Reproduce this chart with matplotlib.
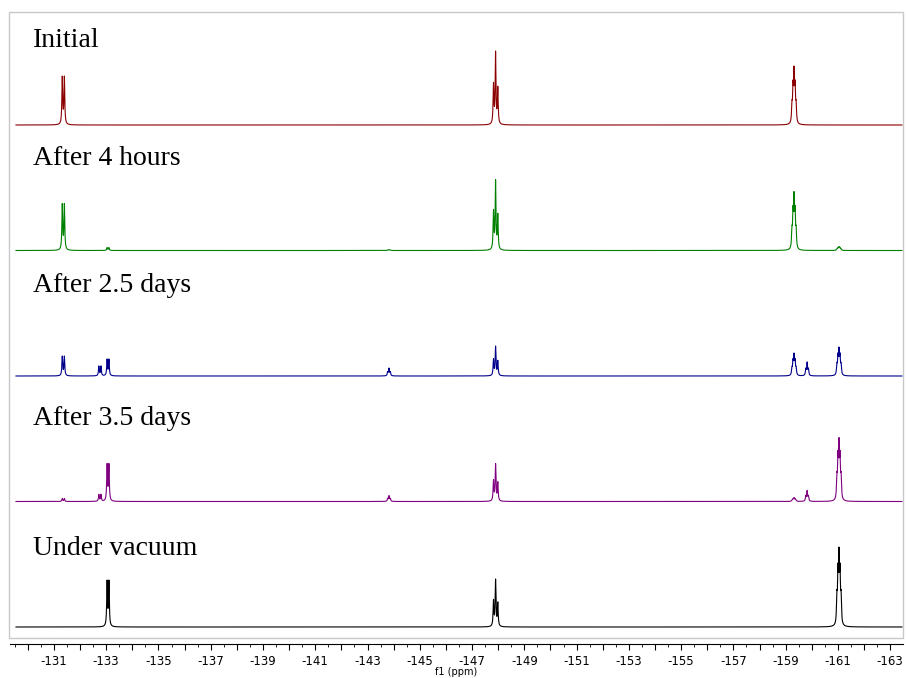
import numpy as np
import matplotlib.pyplot as plt
from matplotlib.ticker import MultipleLocator, FuncFormatter
from matplotlib.patches import Rectangle

# Espectros 19F apilados: posiciones de los multipletes (ppm) y alturas (px)
labels = ['Initial', 'After 4 hours', 'After 2.5 days', 'After 3.5 days', 'Under vacuum']
colors = ['#8b0000', '#008000', '#00008b', '#800080', '#000000']

site_ppm = [-131.36, -132.76, -133.07, -143.82, -147.90, -159.32, -159.82, -161.04]
# desdoblamientos de cada multiplete (ppm) e intensidades relativas
site_offsets = [
    [-0.04, 0.04],
    [-0.04, 0.04],
    [-0.035, 0.035],
    [-0.05, 0.0, 0.05],
    [-0.085, 0.0, 0.08],
    [-0.08, -0.04, 0.0, 0.04, 0.08],
    [-0.05, 0.0, 0.05],
    [-0.08, -0.04, 0.0, 0.04, 0.08],
]
site_rel = [
    [1, 1],
    [1, 1],
    [1, 1],
    [0.5, 1, 0.5],
    [0.5, 1, 0.55],
    [0.35, 0.7, 1, 0.7, 0.35],
    [0.5, 1, 0.5],
    [0.4, 0.75, 1, 0.75, 0.4],
]

# alturas de cada sitio en cada espectro (px sobre la linea base)
h_initial = [49, 0, 0, 0, 74, 59, 0, 0]
h_4h = [47, 0, 3, 1, 71, 59, 0, 4]
h_25d = [20, 10, 17, 8, 30, 23, 14, 29]
h_35d = [3, 7, 38, 6, 38, 4, 11, 64]
h_vac = [0, 0, 47, 0, 48, 0, 0, 80]
heights = [h_initial, h_4h, h_25d, h_35d, h_vac]

W, H = 906, 678
step = 125.5  # separacion entre espectros en px

x = np.linspace(-129.55, -163.45, 30000)
gam = 0.018

def multiplet(c, offs, rel):
    y = np.zeros_like(x)
    for o, r in zip(offs, rel):
        y += r * gam**2 / ((x - c - o)**2 + gam**2)
    return y / y.max()

shapes = [multiplet(c, o, r) for c, o, r in zip(site_ppm, site_offsets, site_rel)]

fig = plt.figure(figsize=(W / 100, H / 100), dpi=100)
ax_bot, ax_top = 644, 12
ax = fig.add_axes([10 / W, (H - ax_bot) / H, 893 / W, (ax_bot - ax_top) / H])

n = len(labels)
for i in range(n):
    off = n - 1 - i
    y = np.zeros_like(x)
    for s, h in zip(shapes, heights[i]):
        y += s * h / step
    ax.plot(x, y + off, color=colors[i], lw=0.8)

ymin = -17 / step
ax.set_ylim(ymin, ymin + (ax_bot - ax_top) / step)
ax.set_xlim(-129.32, -163.49)

label_y = [47, 165, 292, 425, 555]
for lab, yp in zip(labels, label_y):
    ax.text((33 - 10) / 893, (ax_bot - yp) / (ax_bot - ax_top), lab,
            transform=ax.transAxes, family='Liberation Serif', fontsize=20,
            va='baseline', ha='left')

# marco gris
fig.patches.append(Rectangle((9 / W, (H - 638) / H), 894 / W, 626 / H,
                             transform=fig.transFigure, fill=False,
                             edgecolor='#c8c8c8', lw=1.0))

for s in ['top', 'left', 'right']:
    ax.spines[s].set_visible(False)
ax.spines['bottom'].set_linewidth(0.8)
ax.set_yticks([])
ax.xaxis.set_major_locator(MultipleLocator(1))
ax.xaxis.set_minor_locator(MultipleLocator(0.5))
ax.xaxis.set_major_formatter(FuncFormatter(lambda v, p: '%d' % round(v) if round(v) % 2 else ''))
ax.tick_params(axis='x', which='major', length=4, width=0.8, labelsize=8.5, pad=4)
ax.tick_params(axis='x', which='minor', length=2, width=0.6)
ax.set_xlabel('f1 (ppm)', fontsize=7, labelpad=-1)

fig.savefig('out.png', dpi=100)
